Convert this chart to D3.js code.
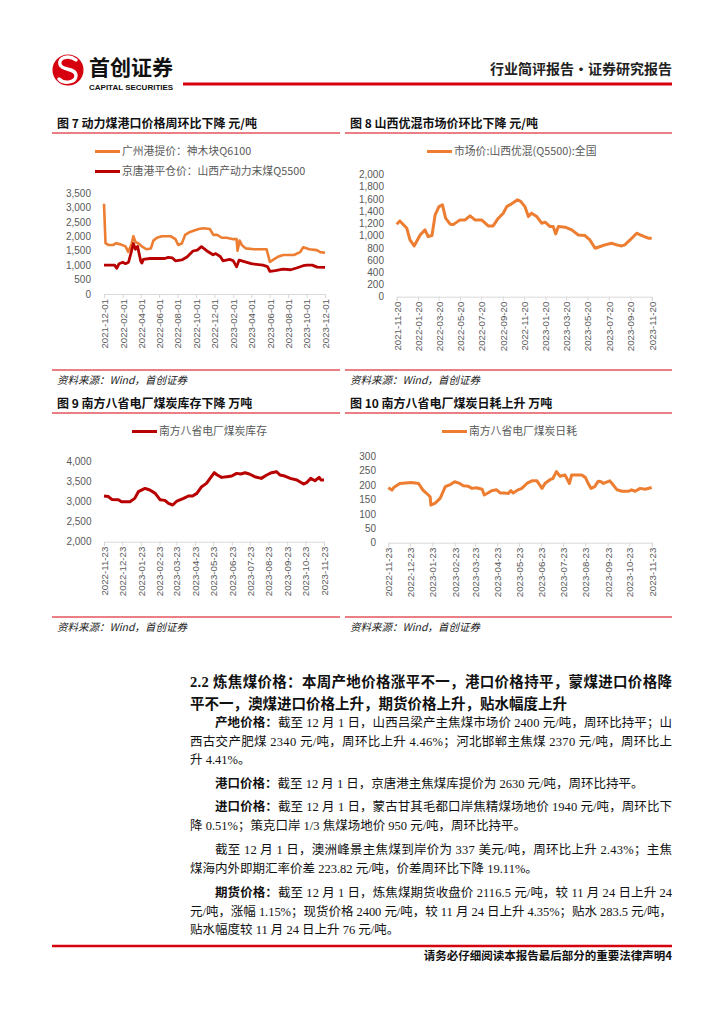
<!DOCTYPE html>
<html><head><meta charset="utf-8">
<script src="https://cdn.jsdelivr.net/npm/d3@7"></script>
<style>body{margin:0;background:#fff}svg{display:block}</style>
</head><body>
<svg id="s" width="724" height="1024"></svg>
<script>
// ---------- DATA ----------
const c7Ticks = ["2021-12-01","2022-02-01","2022-04-01","2022-06-01","2022-08-01","2022-10-01","2022-12-01","2023-02-01","2023-04-01","2023-06-01","2023-08-01","2023-10-01","2023-12-01"];
const c7YTicks = [0,500,1000,1500,2000,2500,3000,3500];
const c7GzDates = ["2021-12-01","2021-12-06","2021-12-15","2022-01-01","2022-01-10","2022-01-25","2022-02-10","2022-02-19","2022-03-01","2022-03-08","2022-03-15","2022-03-25","2022-04-05","2022-04-20","2022-05-05","2022-05-13","2022-05-25","2022-06-10","2022-06-20","2022-07-10","2022-07-25","2022-08-03","2022-08-15","2022-08-26","2022-09-11","2022-09-25","2022-10-10","2022-10-25","2022-11-16","2022-11-27","2022-12-10","2022-12-25","2023-01-10","2023-02-01","2023-02-12","2023-02-15","2023-02-22","2023-03-01","2023-03-15","2023-04-10","2023-05-10","2023-05-22","2023-06-02","2023-06-15","2023-07-01","2023-07-16","2023-08-20","2023-09-10","2023-09-20","2023-10-10","2023-11-04","2023-11-15","2023-12-01"];
const c7GzValues = [3130,1760,1700,1700,1760,1720,1650,1460,1700,2000,1800,1750,1650,1550,1580,1850,1950,2000,2000,2000,1900,1700,1750,2050,2150,2200,2250,2280,2250,2050,2050,1950,1950,1900,1900,1500,1850,1700,1580,1550,1550,1550,1110,1200,1300,1350,1350,1450,1620,1550,1520,1450,1430];
const c7JtDates = ["2021-12-01","2022-01-05","2022-01-12","2022-01-20","2022-02-01","2022-02-10","2022-02-20","2022-03-01","2022-03-08","2022-03-15","2022-03-22","2022-04-01","2022-04-05","2022-04-10","2022-05-01","2022-06-01","2022-06-20","2022-07-01","2022-07-15","2022-07-25","2022-08-15","2022-09-01","2022-09-21","2022-10-05","2022-10-19","2022-11-05","2022-11-26","2022-12-05","2022-12-20","2022-12-29","2023-01-20","2023-02-01","2023-02-12","2023-02-20","2023-03-01","2023-04-01","2023-05-10","2023-05-25","2023-06-02","2023-06-20","2023-07-15","2023-08-10","2023-08-29","2023-09-20","2023-10-02","2023-10-20","2023-11-05","2023-12-01"];
const c7JtValues = [1000,1000,890,1050,1100,1050,1100,1450,1750,1550,1650,1150,1070,1200,1230,1230,1230,1270,1250,1150,1180,1280,1490,1520,1640,1500,1360,1400,1300,1150,1200,1150,940,1170,1150,1050,1000,950,780,810,860,840,900,980,1000,1000,930,920];
const c7Names = ["广州港提价：神木块Q6100","京唐港平仓价：山西产动力末煤Q5500"];

const c8Ticks = ["2021-11-20","2022-01-20","2022-03-20","2022-05-20","2022-07-20","2022-09-20","2022-11-20","2023-01-20","2023-03-20","2023-05-20","2023-07-20","2023-09-20","2023-11-20"];
const c8YTicks = [0,200,400,600,800,1000,1200,1400,1600,1800,2000];
const c8Dates = ["2021-11-20","2021-11-29","2021-12-19","2021-12-28","2022-01-09","2022-01-26","2022-02-09","2022-02-18","2022-03-01","2022-03-10","2022-03-21","2022-03-31","2022-04-09","2022-04-22","2022-05-01","2022-05-20","2022-06-04","2022-06-18","2022-07-02","2022-07-21","2022-08-09","2022-08-23","2022-09-07","2022-09-21","2022-10-01","2022-10-15","2022-11-01","2022-11-10","2022-11-22","2022-12-02","2022-12-11","2022-12-26","2023-01-09","2023-01-19","2023-02-02","2023-02-11","2023-02-18","2023-02-26","2023-03-17","2023-04-05","2023-04-24","2023-05-13","2023-05-27","2023-06-11","2023-06-20","2023-07-09","2023-07-28","2023-08-12","2023-08-26","2023-09-04","2023-09-19","2023-10-08","2023-10-18","2023-11-10","2023-11-20"];
const c8Values = [1187,1240,1120,930,831,1011,1093,984,1000,1339,1475,1503,1285,1187,1180,1257,1257,1323,1257,1257,1159,1159,1285,1367,1475,1520,1585,1560,1475,1311,1367,1311,1203,1220,1148,1148,1028,1148,1137,1093,1011,1000,929,793,810,848,875,848,831,848,929,1039,1011,957,957];
const c8Name = "市场价:山西优混(Q5500):全国";

const c9Ticks = ["2022-11-23","2022-12-23","2023-01-23","2023-02-23","2023-03-23","2023-04-23","2023-05-23","2023-06-23","2023-07-23","2023-08-23","2023-09-23","2023-10-23","2023-11-23"];
const c9YTicks = [2000,2500,3000,3500,4000];
const c9Dates = ["2022-11-23","2022-11-30","2022-12-06","2022-12-17","2022-12-22","2023-01-05","2023-01-13","2023-01-19","2023-01-30","2023-02-07","2023-02-16","2023-02-24","2023-03-04","2023-03-10","2023-03-17","2023-03-24","2023-04-04","2023-04-12","2023-04-19","2023-04-26","2023-05-04","2023-05-12","2023-05-18","2023-05-25","2023-05-30","2023-06-06","2023-06-15","2023-06-23","2023-07-01","2023-07-08","2023-07-15","2023-07-22","2023-07-31","2023-08-11","2023-08-20","2023-08-28","2023-09-05","2023-09-11","2023-09-19","2023-09-28","2023-10-09","2023-10-20","2023-10-25","2023-11-01","2023-11-08","2023-11-15","2023-11-18","2023-11-23"];
const c9Values = [3142,3130,3058,3050,3000,3000,3083,3250,3333,3292,3208,3050,3033,2958,2917,3017,3083,3142,3142,3208,3375,3458,3583,3725,3667,3608,3625,3642,3708,3692,3725,3692,3625,3583,3667,3725,3750,3667,3642,3583,3542,3442,3475,3583,3525,3608,3542,3542];
const c9Name = "南方八省电厂煤炭库存";

const c10Ticks = c9Ticks;
const c10YTicks = [0,50,100,150,200,250,300];
const c10Dates = ["2022-11-23","2022-11-28","2022-12-01","2022-12-09","2022-12-25","2023-01-04","2023-01-10","2023-01-15","2023-01-20","2023-01-21","2023-01-27","2023-02-03","2023-02-10","2023-02-16","2023-02-23","2023-03-02","2023-03-07","2023-03-14","2023-03-19","2023-03-25","2023-04-02","2023-04-05","2023-04-10","2023-04-15","2023-04-22","2023-04-27","2023-05-03","2023-05-08","2023-05-12","2023-05-15","2023-05-22","2023-05-27","2023-06-03","2023-06-10","2023-06-17","2023-06-24","2023-06-28","2023-07-05","2023-07-09","2023-07-14","2023-07-19","2023-07-26","2023-08-01","2023-08-04","2023-08-18","2023-08-23","2023-08-27","2023-08-31","2023-09-05","2023-09-10","2023-09-14","2023-09-17","2023-09-26","2023-09-29","2023-10-06","2023-10-13","2023-10-22","2023-10-26","2023-10-31","2023-11-07","2023-11-14","2023-11-23"];
const c10Values = [190,182,192,205,208,205,182,171,159,130,137,154,194,200,211,205,197,195,188,190,185,165,172,180,183,172,172,170,180,172,183,188,205,214,214,188,205,218,222,246,230,234,205,234,234,226,205,188,194,213,211,205,214,205,183,178,178,183,178,188,185,191];
const c10Name = "南方八省电厂煤炭日耗";

const sourceText = "资料来源：Wind，首创证券";

// ---------- DRAW ----------
const svg = d3.select("#s");
const CJK = "'Noto Sans CJK SC','Noto Sans',sans-serif";
const LAT = "'Liberation Sans',Arial,sans-serif";
const RED = "#D7000F";
const ORANGE = "#ED7D31";
const DARKRED = "#B80000";
const GRAY = "#595959";
const parse = d3.timeParse("%Y-%m-%d");

// header
const hdr = svg.append("g");
hdr.append("circle").attr("cx",68).attr("cy",70).attr("r",15.5).attr("fill",RED);
hdr.append("path").attr("d","M76,60 C68,54 58,58 60,64.5 C62,71 76,67.5 76,75.5 C76,82 65,85 59,79")
  .attr("fill","none").attr("stroke","#fff").attr("stroke-width",3.4).attr("stroke-linecap","round");
hdr.append("text").attr("x",89).attr("y",75).attr("font-family",CJK).attr("font-weight","bold")
  .attr("font-size",21).attr("fill","#111").text("首创证券");
hdr.append("text").attr("x",89).attr("y",90).attr("font-family",LAT).attr("font-weight","bold")
  .attr("font-size",8).attr("fill","#111").text("CAPITAL SECURITIES");
hdr.append("line").attr("x1",183).attr("x2",672).attr("y1",84).attr("y2",84).attr("stroke",RED).attr("stroke-width",2.8);
hdr.append("text").attr("x",672).attr("y",74).attr("text-anchor","end").attr("font-family",CJK)
  .attr("font-weight","bold").attr("font-size",14).attr("fill","#222").text("行业简评报告·证券研究报告");

function panel(cfg){
  const g = svg.append("g");
  g.append("text").attr("x",cfg.left+5).attr("y",cfg.titleY).attr("font-family",CJK).attr("font-weight","bold")
    .attr("font-size",12).attr("fill","#111").text(cfg.title);
  g.append("line").attr("x1",cfg.left).attr("x2",cfg.right).attr("y1",cfg.ruleY).attr("y2",cfg.ruleY)
    .attr("stroke",RED).attr("stroke-width",1.2);
  g.append("line").attr("x1",cfg.left).attr("x2",cfg.right).attr("y1",cfg.srcRuleY).attr("y2",cfg.srcRuleY)
    .attr("stroke",RED).attr("stroke-width",1.2);
  g.append("text").attr("x",cfg.left+5).attr("y",cfg.srcRuleY+14).attr("font-family",CJK).attr("font-style","italic")
    .attr("font-size",10.5).attr("fill","#222").text(sourceText);

  const x = d3.scaleTime().domain([parse(cfg.xTicks[0]), parse(cfg.xTicks[cfg.xTicks.length-1])]).range([cfg.x0,cfg.x1]);
  const y = d3.scaleLinear().domain(cfg.yDomain).range([cfg.yBottom,cfg.yTop]);

  const ya = g.append("g").attr("transform",`translate(${cfg.yLabelX},0)`)
    .call(d3.axisLeft(y).tickValues(cfg.yTicks).tickSize(0).tickPadding(0).tickFormat(d3.format(",")));
  ya.select(".domain").remove();
  ya.selectAll("text").attr("font-family",LAT).attr("font-size",10).attr("fill",GRAY);

  const xa = g.append("g").attr("transform",`translate(0,${cfg.yBottom})`)
    .call(d3.axisBottom(x).tickValues(cfg.xTicks.map(parse)).tickSize(4).tickFormat(d3.timeFormat("%Y-%m-%d")));
  xa.select(".domain").attr("stroke","#d9d9d9");
  xa.selectAll(".tick line").attr("stroke","#d9d9d9");
  xa.selectAll("text").attr("transform","rotate(-90)").attr("text-anchor","end")
    .attr("x",-5).attr("y",0).attr("dy","0.35em")
    .attr("font-family",LAT).attr("font-size",9.7).attr("fill",GRAY);

  cfg.series.forEach(s=>{
    const pts = s.dates.map((d,i)=>({d:parse(d), v:s.values[i]}));
    g.append("path").datum(pts).attr("fill","none").attr("stroke",s.color).attr("stroke-width",s.width)
      .attr("stroke-linejoin","round")
      .attr("d", d3.line().x(p=>x(p.d)).y(p=>y(p.v)));
  });
  cfg.legends.forEach(l=>{
    g.append("line").attr("x1",l.x).attr("x2",l.x+25).attr("y1",l.y).attr("y2",l.y)
      .attr("stroke",l.color).attr("stroke-width",3);
    g.append("text").attr("x",l.x+27).attr("y",l.y).attr("dy","0.35em").attr("font-family",CJK)
      .attr("font-size",10.8).attr("fill",GRAY).text(l.text);
  });
}

panel({left:52,right:340,title:"图 7 动力煤港口价格周环比下降  元/吨",titleY:128,ruleY:133,srcRuleY:370,
  x0:104,x1:325,yBottom:294,yTop:193,yDomain:[0,3500],yTicks:c7YTicks,yLabelX:91,xTicks:c7Ticks,
  series:[{dates:c7GzDates,values:c7GzValues,color:ORANGE,width:2.6},{dates:c7JtDates,values:c7JtValues,color:DARKRED,width:2.8}],
  legends:[{x:95,y:151.5,color:ORANGE,text:c7Names[0]},{x:95,y:171.5,color:DARKRED,text:c7Names[1]}]});

panel({left:345,right:672,title:"图 8  山西优混市场价环比下降  元/吨",titleY:128,ruleY:133,srcRuleY:370,
  x0:396.7,x1:651.7,yBottom:296.7,yTop:174.5,yDomain:[0,2000],yTicks:c8YTicks,yLabelX:384,xTicks:c8Ticks,
  series:[{dates:c8Dates,values:c8Values,color:ORANGE,width:3}],
  legends:[{x:427,y:151.5,color:ORANGE,text:c8Name}]});

panel({left:52,right:340,title:"图 9 南方八省电厂煤炭库存下降  万吨",titleY:408,ruleY:413,srcRuleY:617,
  x0:104,x1:324,yBottom:541.7,yTop:461.7,yDomain:[2000,4000],yTicks:c9YTicks,yLabelX:91.5,xTicks:c9Ticks,
  series:[{dates:c9Dates,values:c9Values,color:DARKRED,width:3}],
  legends:[{x:132,y:431.5,color:DARKRED,text:c9Name}]});

panel({left:345,right:672,title:"图 10  南方八省电厂煤炭日耗上升  万吨",titleY:408,ruleY:413,srcRuleY:617,
  x0:388.3,x1:651.7,yBottom:542.7,yTop:456,yDomain:[0,300],yTicks:c10YTicks,yLabelX:376,xTicks:c10Ticks,
  series:[{dates:c10Dates,values:c10Values,color:ORANGE,width:3}],
  legends:[{x:442,y:431.5,color:ORANGE,text:c10Name}]});

// ---------- BODY TEXT ----------
const BODY = "'Liberation Serif','Noto Sans CJK SC',serif";
const TL = 190, TR = 672;
const heading = ["2.2 炼焦煤价格：本周产地价格涨平不一，港口价格持平，蒙煤进口价格降","平不一，澳煤进口价格上升，期货价格上升，贴水幅度上升"];
const hb = [687,709];
heading.forEach((t,i)=>{
  const el = svg.append("text").attr("x",TL).attr("y",hb[i]).attr("font-family",BODY).attr("font-weight","bold")
    .attr("font-size",14.5).attr("fill","#111").text(t);
  if(i===0) el.attr("textLength",TR-TL).attr("lengthAdjust","spacing");
});
const paras = [
  {b:"产地价格：", lines:["截至 12 月 1 日，山西吕梁产主焦煤市场价 2400 元/吨，周环比持平；山","西古交产肥煤 2340 元/吨，周环比上升 4.46%；河北邯郸主焦煤 2370 元/吨，周环比上","升 4.41%。"], y:[727,745.5,764]},
  {b:"港口价格：", lines:["截至 12 月 1 日，京唐港主焦煤库提价为 2630 元/吨，周环比持平。"], y:[788]},
  {b:"进口价格：", lines:["截至 12 月 1 日，蒙古甘其毛都口岸焦精煤场地价 1940 元/吨，周环比下","降 0.51%；策克口岸 1/3 焦煤场地价 950 元/吨，周环比持平。"], y:[811,829.5]},
  {b:"", lines:["截至 12 月 1 日，澳洲峰景主焦煤到岸价为 337 美元/吨，周环比上升 2.43%；主焦","煤海内外即期汇率价差 223.82 元/吨，价差周环比下降 19.11%。"], y:[854,872.5]},
  {b:"期货价格：", lines:["截至 12 月 1 日，炼焦煤期货收盘价 2116.5 元/吨，较 11 月 24 日上升 24","元/吨，涨幅 1.15%；现货价格 2400 元/吨，较 11 月 24 日上升 4.35%；贴水 283.5 元/吨，","贴水幅度较 11 月 24 日上升 76 元/吨。"], y:[897,915.5,934]}
];
const FS = 12.5;
paras.forEach(p=>{
  p.lines.forEach((ln,i)=>{
    const x0 = i===0 ? TL + 2*FS : TL;
    const t = svg.append("text").attr("x",x0).attr("y",p.y[i]).attr("font-family",BODY)
      .attr("font-size",FS).attr("fill","#111");
    if(i===0 && p.b) t.append("tspan").attr("font-weight","bold").text(p.b);
    t.append("tspan").text(ln);
    const full = i < p.lines.length-1;
    if(full) t.attr("textLength",TR-x0).attr("lengthAdjust","spacing");
  });
});

// footer
svg.append("line").attr("x1",52).attr("x2",672).attr("y1",946).attr("y2",946).attr("stroke",RED).attr("stroke-width",2.5);
svg.append("text").attr("x",672).attr("y",960).attr("text-anchor","end").attr("font-family",CJK).attr("font-weight","bold")
  .attr("font-size",11.5).attr("fill","#111").text("请务必仔细阅读本报告最后部分的重要法律声明4");
</script>
</body></html>
